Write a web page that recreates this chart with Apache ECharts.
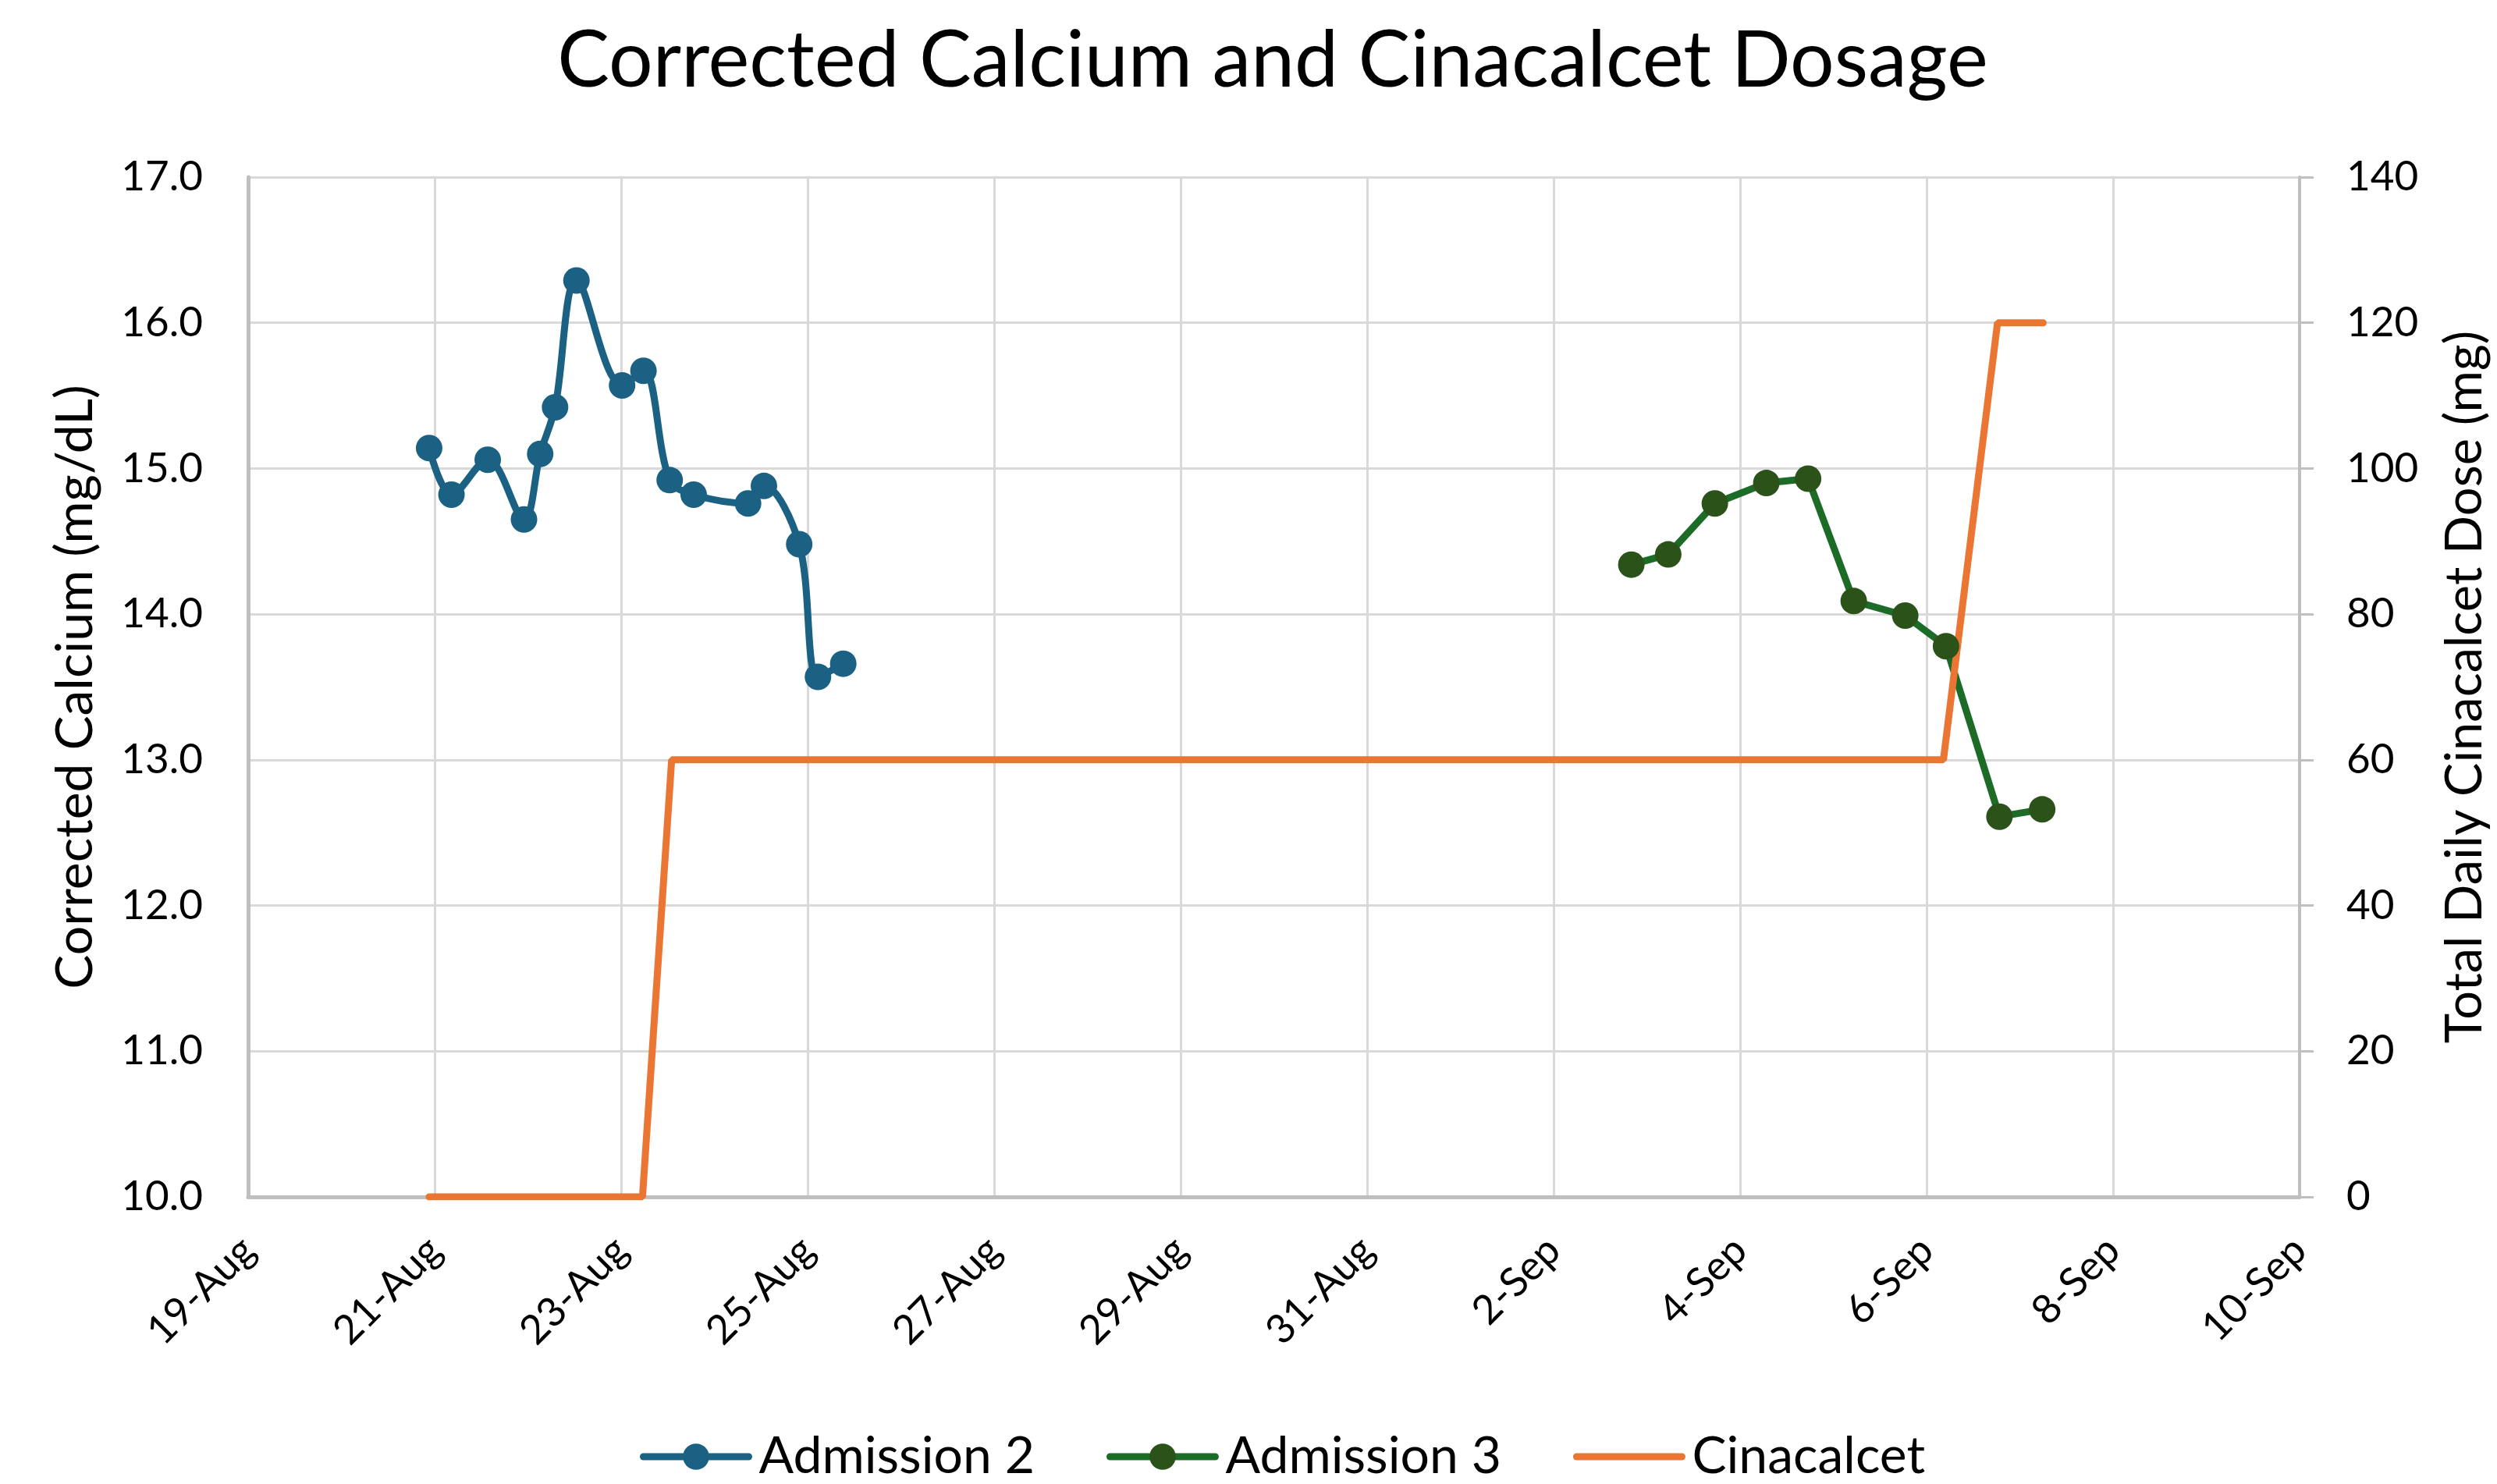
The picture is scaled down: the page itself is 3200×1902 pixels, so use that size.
<!DOCTYPE html>
<html>
<head>
<meta charset="utf-8">
<script src="https://cdn.jsdelivr.net/npm/echarts@6/dist/echarts.min.js"></script>
<style>
html,body{margin:0;padding:0;background:#ffffff;}
#chart{width:3200px;height:1902px;}
</style>
</head>
<body>
<div id="chart"></div>
<script>
// ---------- data ----------
const axisStartDate = '2023-08-19';
const axisEndDate = '2023-09-10';
const monthNames = ['Jan','Feb','Mar','Apr','May','Jun','Jul','Aug','Sep','Oct','Nov','Dec'];

const admission2Times = [
  '2023-08-20 22:35', '2023-08-21 04:20', '2023-08-21 13:40', '2023-08-21 23:00',
  '2023-08-22 03:10', '2023-08-22 07:00', '2023-08-22 12:30', '2023-08-23 00:15',
  '2023-08-23 05:45', '2023-08-23 12:30', '2023-08-23 18:40', '2023-08-24 08:40',
  '2023-08-24 12:45', '2023-08-24 21:50', '2023-08-25 02:40', '2023-08-25 09:10'
];
const admission2Calcium = [15.14, 14.82, 15.06, 14.65, 15.10, 15.42, 16.29, 15.57,
                           15.67, 14.92, 14.82, 14.76, 14.88, 14.48, 13.57, 13.66];

const admission3Times = [
  '2023-09-02 20:00', '2023-09-03 05:30', '2023-09-03 17:30', '2023-09-04 06:45',
  '2023-09-04 17:30', '2023-09-05 05:15', '2023-09-05 18:30', '2023-09-06 05:00',
  '2023-09-06 18:45', '2023-09-07 05:45'
];
const admission3Calcium = [14.34, 14.41, 14.76, 14.90, 14.93, 14.09, 13.99, 13.78, 12.61, 12.66];

const cinacalcetTimes = [
  '2023-08-20 22:35', '2023-08-23 05:30', '2023-08-23 13:00',
  '2023-09-06 04:20', '2023-09-06 18:15', '2023-09-07 06:00'
];
const cinacalcetDose = [0, 0, 60, 60, 120, 120];

// ---------- helpers ----------
const DAY = 86400000;
const t0 = Date.parse(axisStartDate + 'T00:00:00Z');
function dayOffset(s) {
  const iso = s.length > 10 ? s.replace(' ', 'T') + ':00Z' : s + 'T00:00:00Z';
  return (Date.parse(iso) - t0) / DAY;
}
function pairs(times, values) { return times.map((t, i) => [dayOffset(t), values[i]]); }
function dateLabel(v) {
  const d = new Date(t0 + Math.round(v) * DAY);
  return d.getUTCDate() + '-' + monthNames[d.getUTCMonth()];
}

const FONT = 'Lato';
const chart = echarts.init(document.getElementById('chart'), null, {renderer: 'canvas'});
const option = {
  animation: false,
  backgroundColor: '#ffffff',
  textStyle: {fontFamily: FONT, color: '#000'},
  title: {
    text: 'Corrected Calcium and Cinacalcet Dosage',
    left: 1626, top: 24, textAlign: 'center',
    textStyle: {fontFamily: FONT, fontSize: 100, fontWeight: 'normal', color: '#000'}
  },
  grid: {left: 318, right: 248, top: 227, bottom: 368},
  legend: {
    left: 820, top: 1834,
    itemWidth: 135, itemHeight: 42, itemGap: 92, padding: 0,
    lineStyle: {width: 9, cap: 'round'},
    textStyle: {fontFamily: FONT, fontSize: 66, color: '#000', padding: [0, 0, 0, 8]},
    data: [
      {name: 'Admission 2'},
      {name: 'Admission 3'},
      {name: 'Cinacalcet', itemStyle: {opacity: 0}}
    ]
  },
  xAxis: {
    type: 'value', min: 0, max: dayOffset(axisEndDate), interval: 2,
    axisLine: {show: true, onZero: false, lineStyle: {color: '#BFBFBF', width: 5}},
    axisTick: {show: false},
    splitLine: {show: true, lineStyle: {color: '#D9D9D9', width: 3}},
    axisLabel: {rotate: 45, margin: 60, fontSize: 52, fontFamily: FONT, color: '#000', formatter: dateLabel}
  },
  yAxis: [
    {
      type: 'value', min: 10, max: 17, interval: 1, position: 'left',
      name: 'Corrected Calcium (mg/dL)', nameLocation: 'middle', nameGap: 188,
      nameTextStyle: {fontFamily: FONT, fontSize: 66, color: '#000'},
      axisLine: {show: true, lineStyle: {color: '#BFBFBF', width: 5}},
      axisTick: {show: false},
      splitLine: {show: true, lineStyle: {color: '#D9D9D9', width: 3}},
      axisLabel: {fontSize: 53, fontFamily: FONT, color: '#000', margin: 58, formatter: v => v.toFixed(1)}
    },
    {
      type: 'value', min: 0, max: 140, interval: 20, position: 'right',
      name: 'Total Daily Cinacalcet Dose (mg)', nameLocation: 'middle', nameGap: 180,
      nameTextStyle: {fontFamily: FONT, fontSize: 65, color: '#000'},
      axisLine: {show: true, lineStyle: {color: '#BFBFBF', width: 4}},
      axisTick: {show: true, length: 18, lineStyle: {color: '#BFBFBF', width: 3}},
      splitLine: {show: false},
      axisLabel: {fontSize: 53, fontFamily: FONT, color: '#000', margin: 60}
    }
  ],
  series: [
    {
      name: 'Admission 2', type: 'line', yAxisIndex: 0,
      data: pairs(admission2Times, admission2Calcium),
      smooth: 0.35, symbol: 'circle', symbolSize: 34,
      lineStyle: {color: '#1B6183', width: 9},
      itemStyle: {color: '#1B6183'}
    },
    {
      name: 'Admission 3', type: 'line', yAxisIndex: 0,
      data: pairs(admission3Times, admission3Calcium),
      smooth: false, symbol: 'circle', symbolSize: 34,
      lineStyle: {color: '#1C6C28', width: 9},
      itemStyle: {color: '#2A5219'}
    },
    {
      name: 'Cinacalcet', type: 'line', yAxisIndex: 1,
      data: pairs(cinacalcetTimes, cinacalcetDose),
      smooth: false, symbol: 'none',
      lineStyle: {color: '#EB7533', width: 9, cap: 'round'},
      itemStyle: {color: '#EB7533'}
    }
  ]
};
chart.setOption(option);
</script>
</body>
</html>
